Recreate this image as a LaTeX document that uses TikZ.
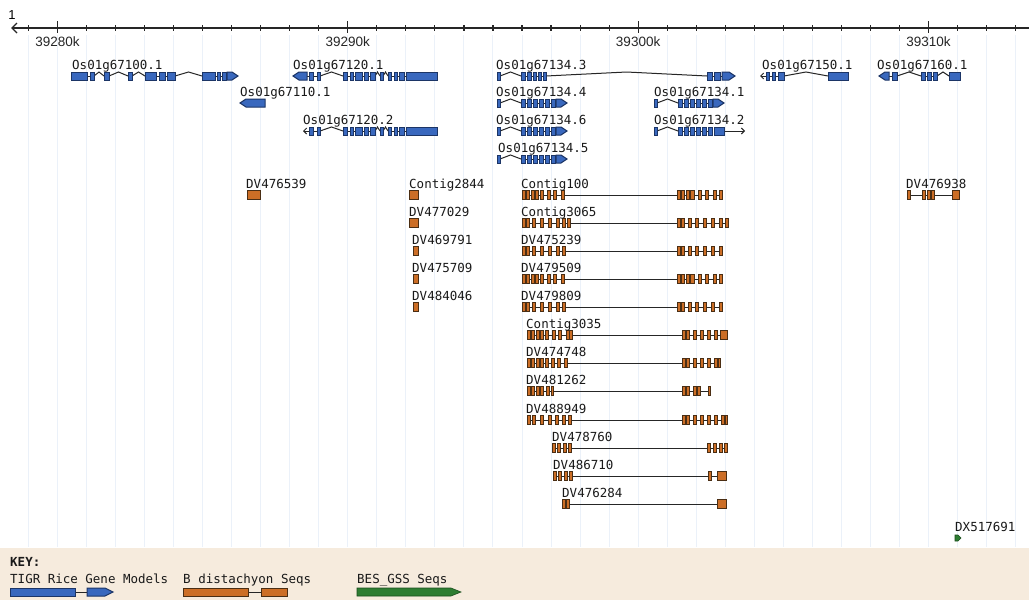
\documentclass[tikz,border=0pt]{standalone}
\usepackage{fontspec}
\newfontfamily\monofnt{DejaVu Sans Mono}
\newfontfamily\axisfnt{Liberation Sans}
\usetikzlibrary{arrows.meta}
\definecolor{clrGene}{HTML}{3968BE}
\definecolor{clrGeneEdge}{HTML}{1C3566}
\definecolor{clrBdis}{HTML}{CC6E26}
\definecolor{clrBdisEdge}{HTML}{4A2E14}
\definecolor{clrGss}{HTML}{2E7D32}
\definecolor{clrGssEdge}{HTML}{1B4D1E}
\definecolor{clrKey}{HTML}{F6EBDD}
\definecolor{clrGrid}{HTML}{EBF1F9}
\tikzset{
  gexon/.style = {draw=clrGeneEdge, fill=clrGene, line width=1pt},
  gintron/.style = {draw=black!85, line width=1pt},
  bexon/.style = {draw=clrBdisEdge, fill=clrBdis, line width=1pt},
  bline/.style = {draw=black!85, line width=1pt},
  gss/.style = {draw=clrGssEdge, fill=clrGss, line width=0.6pt},
  ruler/.style = {draw=black!85, line width=1.1pt},
  gridln/.style = {draw=clrGrid, line width=1pt},
  ticklab/.style = {font=\axisfnt\fontsize{13.5}{15}\selectfont, text=black!85},
  seqlab/.style = {font=\monofnt\fontsize{12.5}{14}\selectfont, anchor=base west,
                   inner sep=0pt, text=black!90},
}
% blue gene model parts: {x1}{x2}{y}
\newcommand{\exonG}[3]{\draw[gexon] (#1,#3-4) rectangle (#2,#3+4);}
\newcommand{\intronG}[3]{\draw[gintron] (#1,#3) -- ({(#1+#2)/2},#3-4) -- (#2,#3);}
\newcommand{\lineG}[3]{\draw[gintron] (#1,#3) -- (#2,#3);}
\newcommand{\tipR}[3]{\draw[gexon] (#1,#3-4) -- (#2-6,#3-4) -- (#2,#3) -- (#2-6,#3+4) -- (#1,#3+4) -- cycle;}
\newcommand{\tipL}[3]{\draw[gexon] (#2,#3-4) -- (#1+6,#3-4) -- (#1,#3) -- (#1+6,#3+4) -- (#2,#3+4) -- cycle;}
% orange B distachyon parts
\newcommand{\exonB}[3]{\draw[bexon] (#1,#3-4.5) rectangle (#2,#3+4.5);}
\newcommand{\lineB}[3]{\draw[bline] (#1,#3) -- (#2,#3);}

\begin{document}
\begin{tikzpicture}[x=1pt,y=-1pt]
  \useasboundingbox (0,0) rectangle (1029,600);
  \fill[white] (0,0) rectangle (1029,600);

  % --- grid and key band ---
  \foreach \k in {0,...,34}
    \draw[gridln] ({28.5+29.03*\k},35) -- ({28.5+29.03*\k},547);
  \fill[clrKey] (0,548) rectangle (1029,600);

  % --- ruler ---
  \node[font=\axisfnt\fontsize{13}{14}\selectfont] (one) at (12,15) {1};
  \draw[ruler] (12,28) -- (1029,28);
  \draw[ruler] (17,23) -- (12,28) -- (17,33);
  \foreach \k in {0,...,34}
    \draw[ruler] ({28.5+29.03*\k},25) -- ++(0,6);
  \foreach \k/\lab in {1/39280k, 11/39290k, 21/39300k, 31/39310k} {
    \draw[ruler] ({28.5+29.03*\k},21) -- ++(0,12);
    \node[ticklab] (T\k) at ({28.5+29.03*\k},42) {\lab};
  }

  % --- rice gene models ---
  % Os01g67100.1
  \lineG{71}{94}{76} \lineG{145}{175}{76} \lineG{202}{232}{76}
  \intronG{94}{104}{76} \intronG{109}{128}{76} \intronG{132}{145}{76} \intronG{175}{202}{76}
  \foreach \a/\b in {71/87, 90/94, 104/109, 128/132, 145/156, 159/165, 167/175, 202/215, 217/220, 222/226}
    {\exonG{\a}{\b}{76}}
  \tipR{227}{238}{76}

  % Os01g67120.1 and Os01g67120.2
  \lineG{300}{317}{76} \lineG{343}{375}{76} \lineG{388}{410}{76}
  \intronG{320}{343}{76} \intronG{375}{380}{76} \intronG{383}{388}{76}
  \tipL{293}{307}{76}
  \draw[gintron, {Straight Barb[length=3pt,width=6pt]}-] (303,131) -- (317,131);
  \lineG{343}{375}{131} \lineG{388}{410}{131}
  \intronG{320}{343}{131} \intronG{375}{380}{131} \intronG{383}{388}{131}
  \foreach \y in {76,131}
    \foreach \a/\b in {309/313, 317/320, 343/347, 350/353, 355/362, 364/368, 370/375, 380/383, 388/391, 394/397, 399/404, 406/437}
      {\exonG{\a}{\b}{\y}}

  % Os01g67110.1
  \tipL{240}{265}{103}

  % Os01g67134.3
  \intronG{500}{521}{76} \lineG{521}{546}{76} \intronG{546}{707}{76} \lineG{707}{730}{76}
  \foreach \a/\b in {497/500, 521/525, 527/531, 533/536, 538/541, 543/546, 707/712, 714/720}
    {\exonG{\a}{\b}{76}}
  \tipR{722}{735}{76}

  % Os01g67134.4 / .6 / .5
  \foreach \y in {103,131,159} {
    \intronG{500}{521}{\y} \lineG{521}{560}{\y}
    \foreach \a/\b in {497/500, 521/525, 527/531, 533/537, 539/543, 545/549, 551/555}
      {\exonG{\a}{\b}{\y}}
    \tipR{556}{567}{\y}
  }

  % Os01g67134.1 / .2
  \foreach \y in {103,131} {
    \intronG{657}{678}{\y} \lineG{678}{712}{\y}
    \foreach \a/\b in {654/657, 678/682, 684/688, 690/694, 696/700, 702/706, 708/712}
      {\exonG{\a}{\b}{\y}}
  }
  \tipR{713}{724}{103}
  \draw[gintron, -{Straight Barb[length=3pt,width=6pt]}] (714,131) -- (745,131);
  \exonG{714}{724}{131}

  % Os01g67150.1
  \draw[gintron, {Straight Barb[length=3pt,width=6pt]}-] (760,76) -- (784,76);
  \intronG{784}{828}{76}
  \foreach \a/\b in {766/769, 772/775, 778/784, 828/848}
    {\exonG{\a}{\b}{76}}

  % Os01g67160.1
  \lineG{885}{897}{76} \intronG{897}{921}{76} \lineG{921}{937}{76} \intronG{937}{949}{76}
  \tipL{879}{889}{76}
  \foreach \a/\b in {892/897, 921/925, 927/931, 933/937, 949/960}
    {\exonG{\a}{\b}{76}}

  % gene labels
  \foreach \nm/\x/\y [count=\i] in {Os01g67100.1/72/76, Os01g67120.1/293/76, Os01g67134.3/496/76,
      Os01g67150.1/762/76, Os01g67160.1/877/76, Os01g67110.1/240/103, Os01g67134.4/496/103,
      Os01g67134.1/654/103, Os01g67120.2/303/131, Os01g67134.6/496/131, Os01g67134.2/654/131,
      Os01g67134.5/498/159}
    \node[seqlab] (G\i) at (\x,\y-7) {\nm};

  % --- B distachyon seqs ---
  % single hits
  \exonB{247}{260}{195}
  \exonB{409}{418}{195}
  \exonB{409}{418}{223}
  \foreach \y in {251,279,307} {\exonB{413}{418}{\y}}

  % spliced hits (line first, exons on top)
  \lineB{522}{722}{195} \lineB{522}{728}{223} \lineB{522}{722}{251}
  \lineB{522}{722}{279} \lineB{522}{722}{307} \lineB{527}{727}{335}
  \lineB{527}{720}{363} \lineB{527}{710}{391} \lineB{527}{727}{420}
  \lineB{552}{727}{448} \lineB{553}{726}{476} \lineB{562}{726}{504}
  \lineB{907}{959}{195}
  % Contig100, DV479509
  \foreach \y in {195,279}
    \foreach \a/\b in {522/525, 526/529, 531/534, 535/538, 540/543, 547/550, 553/556, 561/564,
        677/680, 681/684, 686/689, 690/694, 698/701, 705/708, 713/716, 719/722}
      {\exonB{\a}{\b}{\y}}
  % Contig3065
  \foreach \a/\b in {522/525, 526/529, 532/535, 540/543, 548/551, 556/559, 562/565, 567/570,
      677/680, 681/684, 688/691, 695/698, 703/706, 711/714, 719/722, 725/728}
    {\exonB{\a}{\b}{223}}
  % DV475239, DV479809
  \foreach \y in {251,307}
    \foreach \a/\b in {522/525, 526/529, 532/535, 540/543, 548/551, 556/559, 562/565,
        677/680, 681/684, 688/691, 695/698, 703/706, 711/714, 719/722}
      {\exonB{\a}{\b}{\y}}
  % Contig3035
  \foreach \a/\b in {527/530, 531/534, 536/539, 540/543, 545/548, 552/555, 558/561, 566/569, 569/572,
      682/685, 686/689, 693/696, 700/703, 707/710, 714/717, 720/727}
    {\exonB{\a}{\b}{335}}
  % DV474748
  \foreach \a/\b in {527/530, 531/534, 536/539, 540/543, 545/548, 551/554, 557/560, 564/567,
      682/685, 686/689, 693/696, 700/703, 707/710, 714/717, 718/720}
    {\exonB{\a}{\b}{363}}
  % DV481262
  \foreach \a/\b in {527/530, 531/534, 536/539, 540/543, 546/549, 551/553,
      682/685, 686/689, 693/696, 697/700, 708/710}
    {\exonB{\a}{\b}{391}}
  % DV488949
  \foreach \a/\b in {527/530, 532/535, 540/543, 548/551, 555/558, 562/565, 568/571,
      682/685, 686/689, 693/696, 700/703, 707/710, 714/717, 721/724, 725/727}
    {\exonB{\a}{\b}{420}}
  % DV478760, DV486710, DV476284
  \foreach \a/\b in {552/555, 557/560, 563/566, 568/571, 707/710, 713/716, 719/722, 724/727}
    {\exonB{\a}{\b}{448}}
  \foreach \a/\b in {553/556, 558/561, 564/567, 569/572, 708/711, 717/726}
    {\exonB{\a}{\b}{476}}
  \foreach \a/\b in {562/565, 566/569, 717/726}
    {\exonB{\a}{\b}{504}}
  % DV476938
  \foreach \a/\b in {907/910, 922/925, 927/930, 931/934, 952/959}
    {\exonB{\a}{\b}{195}}

  % B distachyon labels
  \foreach \nm/\x/\y [count=\i] in {DV476539/246/195, Contig2844/409/195, DV477029/409/223,
      DV469791/412/251, DV475709/412/279, DV484046/412/307,
      Contig100/521/195, Contig3065/521/223, DV475239/521/251, DV479509/521/279,
      DV479809/521/307, Contig3035/526/335, DV474748/526/363, DV481262/526/391,
      DV488949/526/420, DV478760/552/448, DV486710/553/476, DV476284/562/504,
      DV476938/906/195}
    \node[seqlab] (B\i) at (\x,\y-7) {\nm};

  % --- BES_GSS seq ---
  \draw[gss] (955,535) -- (958,535) -- (961,538) -- (958,541) -- (955,541) -- cycle;
  \node[seqlab] (DX) at (955,531) {DX517691};

  % --- Key ---
  \node[seqlab, font=\monofnt\bfseries\fontsize{12.5}{14}\selectfont] (key) at (10,566) {KEY:};
  \node[seqlab] (k1) at (10,583) {TIGR Rice Gene Models};
  \node[seqlab] (k2) at (183,583) {B distachyon Seqs};
  \node[seqlab] (k3) at (357,583) {BES\_GSS Seqs};
  \lineG{75}{87}{592}
  \draw[gexon] (10,588) rectangle (75,596);
  \draw[gexon] (87,588) -- (105,588) -- (113,592) -- (105,596) -- (87,596) -- cycle;
  \lineB{248}{261}{592}
  \draw[bexon] (183,588) rectangle (248,596);
  \draw[bexon] (261,588) rectangle (287,596);
  \draw[gss] (357,588) -- (451,588) -- (461,592) -- (451,596) -- (357,596) -- cycle;
\end{tikzpicture}
\end{document}
